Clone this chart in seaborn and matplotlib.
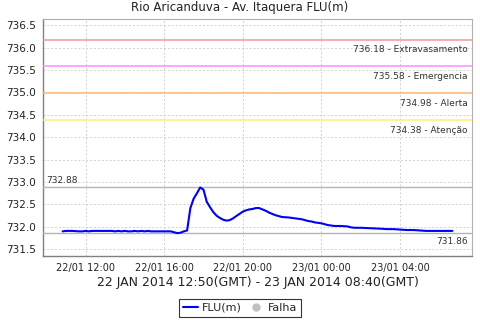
import matplotlib
matplotlib.use("Agg")
import matplotlib.pyplot as plt
import matplotlib.dates as mdates
from matplotlib.lines import Line2D
import seaborn as sns
import pandas as pd

# ---------------- data ----------------
title = "Rio Aricanduva - Av. Itaquera FLU(m)"
xlabel = "22 JAN 2014 12:50(GMT) - 23 JAN 2014 08:40(GMT)"
series_name = "FLU(m)"
fail_name = "Falha"

times = [
    "2014-01-22 10:50", "2014-01-22 11:00", "2014-01-22 11:20", "2014-01-22 11:40",
    "2014-01-22 11:50", "2014-01-22 12:00", "2014-01-22 12:10", "2014-01-22 12:20",
    "2014-01-22 12:40", "2014-01-22 13:00", "2014-01-22 13:20", "2014-01-22 13:30",
    "2014-01-22 13:40", "2014-01-22 13:50", "2014-01-22 14:00", "2014-01-22 14:10",
    "2014-01-22 14:20", "2014-01-22 14:30", "2014-01-22 14:40", "2014-01-22 14:50",
    "2014-01-22 15:00", "2014-01-22 15:10", "2014-01-22 15:20", "2014-01-22 15:40",
    "2014-01-22 16:00", "2014-01-22 16:20", "2014-01-22 16:30", "2014-01-22 16:40",
    "2014-01-22 16:50", "2014-01-22 17:00", "2014-01-22 17:10", "2014-01-22 17:20",
    "2014-01-22 17:30", "2014-01-22 17:40", "2014-01-22 17:50", "2014-01-22 18:00",
    "2014-01-22 18:10", "2014-01-22 18:20", "2014-01-22 18:30", "2014-01-22 18:40",
    "2014-01-22 18:50", "2014-01-22 19:00", "2014-01-22 19:10", "2014-01-22 19:20",
    "2014-01-22 19:30", "2014-01-22 19:40", "2014-01-22 19:50", "2014-01-22 20:00",
    "2014-01-22 20:10", "2014-01-22 20:20", "2014-01-22 20:30", "2014-01-22 20:40",
    "2014-01-22 20:50", "2014-01-22 21:00", "2014-01-22 21:10", "2014-01-22 21:20",
    "2014-01-22 21:30", "2014-01-22 21:40", "2014-01-22 21:50", "2014-01-22 22:00",
    "2014-01-22 22:20", "2014-01-22 22:40", "2014-01-22 22:50", "2014-01-22 23:00",
    "2014-01-22 23:10", "2014-01-22 23:20", "2014-01-22 23:30", "2014-01-22 23:40",
    "2014-01-22 23:50", "2014-01-23 00:00", "2014-01-23 00:10", "2014-01-23 00:20",
    "2014-01-23 00:30", "2014-01-23 00:40", "2014-01-23 01:00", "2014-01-23 01:20",
    "2014-01-23 01:30", "2014-01-23 01:40", "2014-01-23 02:00", "2014-01-23 02:30",
    "2014-01-23 03:00", "2014-01-23 03:20", "2014-01-23 03:40", "2014-01-23 04:00",
    "2014-01-23 04:20", "2014-01-23 04:40", "2014-01-23 05:00", "2014-01-23 05:20",
    "2014-01-23 05:40", "2014-01-23 06:00", "2014-01-23 06:20", "2014-01-23 06:40",
]
levels = [
    731.90, 731.91, 731.91, 731.90,
    731.90, 731.91, 731.90, 731.91,
    731.91, 731.91, 731.91, 731.90,
    731.91, 731.90, 731.91, 731.90,
    731.90, 731.91, 731.90, 731.91,
    731.90, 731.91, 731.90, 731.90,
    731.90, 731.90, 731.88, 731.86,
    731.87, 731.90, 731.92, 732.42,
    732.63, 732.75, 732.88, 732.83,
    732.56, 732.44, 732.33, 732.25,
    732.20, 732.16, 732.14, 732.15,
    732.19, 732.24, 732.29, 732.34,
    732.37, 732.39, 732.40, 732.42,
    732.42, 732.39, 732.36, 732.32,
    732.29, 732.26, 732.24, 732.22,
    732.21, 732.19, 732.18, 732.17,
    732.15, 732.13, 732.12, 732.10,
    732.09, 732.08, 732.06, 732.04,
    732.03, 732.02, 732.02, 732.01,
    731.99, 731.98, 731.98, 731.97,
    731.96, 731.95, 731.95, 731.94,
    731.93, 731.93, 731.92, 731.91,
    731.91, 731.91, 731.91, 731.91,
]

threshold_values = [736.18, 735.58, 734.98, 734.38]
threshold_names = ["Extravasamento", "Emergencia", "Alerta", "Atenção"]
threshold_colors = ["#ee9a9a", "#ff8cff", "#ffb870", "#fff06a"]

max_value = 732.88
min_value = 731.86

y_ticks = [731.5, 732.0, 732.5, 733.0, 733.5, 734.0, 734.5, 735.0, 735.5, 736.0, 736.5]
x_ticks = ["2014-01-22 12:00", "2014-01-22 16:00", "2014-01-22 20:00",
           "2014-01-23 00:00", "2014-01-23 04:00"]
x_range = ["2014-01-22 09:50", "2014-01-23 07:40"]
y_range = [731.35, 736.64]

# ---------------- plot ----------------
sns.set_style("white")
plt.rcParams["font.family"] = ["DejaVu Sans"]

df = pd.DataFrame({"time": pd.to_datetime(times), "level": levels})

fig = plt.figure(figsize=(4.8, 3.2), dpi=100)
ax = fig.add_axes([43 / 480, 1 - 256 / 320, (472 - 43) / 480, (256 - 19) / 320])

sns.lineplot(data=df, x="time", y="level", ax=ax, color="#0000ff", linewidth=1.5, zorder=5)

ax.set_xlim(pd.to_datetime(x_range[0]), pd.to_datetime(x_range[1]))
ax.set_ylim(*y_range)

# grid
ax.set_yticks(y_ticks)
ax.set_xticks(pd.to_datetime(x_ticks))
ax.xaxis.set_major_formatter(mdates.DateFormatter("%d/%m %H:%M"))
ax.yaxis.set_major_formatter(matplotlib.ticker.FormatStrFormatter("%.1f"))
ax.grid(True, color="#d0d0d0", linestyle=(0, (2, 2)), linewidth=0.7)

# threshold lines
for val, name, col in zip(threshold_values, threshold_names, threshold_colors):
    ax.axhline(val, color=col, linewidth=1.1, zorder=3)
    ax.annotate(f"{val:.2f} - {name}", xy=(1, val), xycoords=("axes fraction", "data"),
                xytext=(-3, -4), textcoords="offset points", ha="right", va="top",
                fontsize=6.5, color="#333333")

# min / max lines
ax.axhline(max_value, color="#b4b4b4", linewidth=1.0, zorder=3)
ax.axhline(min_value, color="#b4b4b4", linewidth=1.0, zorder=3)
ax.annotate(f"{max_value:.2f}", xy=(0, max_value), xycoords=("axes fraction", "data"),
            xytext=(2, 2), textcoords="offset points", ha="left", va="bottom",
            fontsize=6.5, color="#333333")
ax.annotate(f"{min_value:.2f}", xy=(1, min_value), xycoords=("axes fraction", "data"),
            xytext=(-3, -3), textcoords="offset points", ha="right", va="top",
            fontsize=6.5, color="#333333")

# spines / ticks
for s in ["top", "right"]:
    ax.spines[s].set_color("#b0b0b0")
    ax.spines[s].set_linewidth(0.8)
for s in ["left", "bottom"]:
    ax.spines[s].set_color("#808080")
    ax.spines[s].set_linewidth(1.0)
ax.tick_params(axis="both", which="major", length=3, width=0.8, color="#808080",
               labelsize=7.5, labelcolor="#222222", direction="out", pad=2)
ax.tick_params(axis="x", labelsize=7.0)

fig.text(0.5, 1 - 8 / 320, title, ha="center", va="center", fontsize=8.5, color="#222222")
ax.set_xlabel(xlabel, fontsize=9, color="#222222", labelpad=2)
ax.set_ylabel("")

handles = [
    Line2D([0], [0], color="#0000ff", linewidth=1.5),
    Line2D([0], [0], marker="o", color="none", markerfacecolor="#c0c0c0",
           markeredgecolor="#c0c0c0", markersize=5),
]
leg = fig.legend(handles, [series_name, fail_name], loc="center",
                 bbox_to_anchor=(0.5, 1 - 308 / 320), ncol=2, frameon=True,
                 fancybox=False, fontsize=8, handlelength=1.3, handletextpad=0.4,
                 columnspacing=0.6, borderpad=0.35, borderaxespad=0)
leg.get_frame().set_edgecolor("#000000")
leg.get_frame().set_linewidth(0.8)

fig.savefig("out.png", dpi=100)
